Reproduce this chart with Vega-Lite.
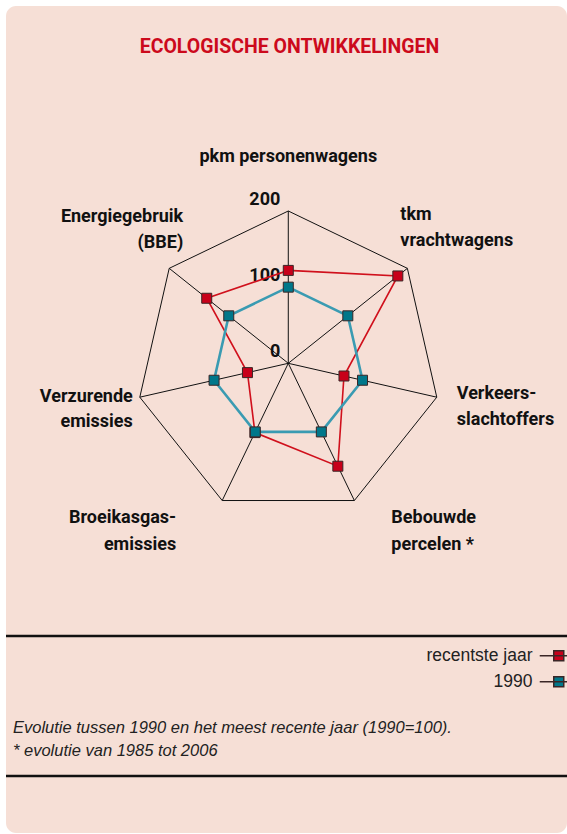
{
  "$schema": "https://vega.github.io/schema/vega-lite/v6.json",
  "width": 561,
  "height": 827,
  "autosize": {"type": "none"},
  "padding": {"left": 6, "top": 6, "right": 0, "bottom": 1},
  "background": "#ffffff",
  "config": {
    "view": {"fill": "#f6dfd6", "stroke": null, "cornerRadius": 10},
    "text": {"font": "Liberation Sans"}
  },
  "title": {
    "text": "ECOLOGISCHE ONTWIKKELINGEN",
    "anchor": "middle",
    "frame": "group",
    "orient": "top",
    "offset": -66,
    "baseline": "alphabetic",
    "dx": 3,
    "font": "Roboto",
    "fontSize": 19.5,
    "fontWeight": "bold",
    "color": "#cc0a1c"
  },
  "datasets": {
    "axes": [
      {"i": 0, "label": ["pkm personenwagens"]},
      {"i": 1, "label": ["tkm", "vrachtwagens"]},
      {"i": 2, "label": ["Verkeers-", "slachtoffers"]},
      {"i": 3, "label": ["Bebouwde", "percelen *"]},
      {"i": 4, "label": ["Broeikasgas-", "emissies"]},
      {"i": 5, "label": ["Verzurende", "emissies"]},
      {"i": 6, "label": ["Energiegebruik", "(BBE)"]}
    ],
    "series": [
      {"i": 0, "series": "recentste jaar", "value": 122},
      {"i": 1, "series": "recentste jaar", "value": 184},
      {"i": 2, "series": "recentste jaar", "value": 75},
      {"i": 3, "series": "recentste jaar", "value": 150},
      {"i": 4, "series": "recentste jaar", "value": 101},
      {"i": 5, "series": "recentste jaar", "value": 55},
      {"i": 6, "series": "recentste jaar", "value": 137},
      {"i": 0, "series": "1990", "value": 100},
      {"i": 1, "series": "1990", "value": 100},
      {"i": 2, "series": "1990", "value": 100},
      {"i": 3, "series": "1990", "value": 100},
      {"i": 4, "series": "1990", "value": 100},
      {"i": 5, "series": "1990", "value": 100},
      {"i": 6, "series": "1990", "value": 100}
    ],
    "ticks": [{"tick": 0}, {"tick": 100}, {"tick": 200}],
    "notes": [{"note": ["Evolutie tussen 1990 en het meest recente jaar (1990=100).", "* evolutie van 1985 tot 2006"]}]
  },
  "layer": [
    {
      "data": {"name": "axes"},
      "transform": [
        {"calculate": "datum.i * 2 * PI / 7", "as": "ang"},
        {"calculate": "200 * sin(datum.ang)", "as": "x"},
        {"calculate": "200 * cos(datum.ang)", "as": "y"},
        {"calculate": "0", "as": "cx"},
        {"calculate": "0", "as": "cy"}
      ],
      "layer": [
        {
          "mark": {"type": "line", "interpolate": "linear-closed", "stroke": "#111111", "strokeWidth": 1},
          "encoding": {
            "x": {"field": "x", "type": "quantitative", "axis": null, "scale": {"domain": [-370.7, 366.0], "nice": false, "zero": false}},
            "y": {"field": "y", "type": "quantitative", "axis": null, "scale": {"domain": [-616.8, 469.2], "nice": false, "zero": false}},
            "order": {"field": "i", "type": "quantitative"}
          }
        },
        {
          "mark": {"type": "rule", "stroke": "#111111", "strokeWidth": 1},
          "encoding": {
            "x": {"field": "cx", "type": "quantitative"},
            "y": {"field": "cy", "type": "quantitative"},
            "x2": {"field": "x"},
            "y2": {"field": "y"}
          }
        },
        {
          "transform": [{"filter": "datum.i == 0"}],
          "mark": {"type": "text", "align": "center", "baseline": "alphabetic", "dx": 0, "dy": -49, "font": "Roboto", "fontSize": 18, "fontWeight": "bold", "lineHeight": 26, "color": "#111111"},
          "encoding": {"x": {"field": "x", "type": "quantitative"}, "y": {"field": "y", "type": "quantitative"}, "text": {"field": "label", "type": "nominal"}}
        },
        {
          "transform": [{"filter": "datum.i == 1"}],
          "mark": {"type": "text", "align": "left", "baseline": "alphabetic", "dx": -7, "dy": -48, "font": "Roboto", "fontSize": 18, "fontWeight": "bold", "lineHeight": 26, "color": "#111111"},
          "encoding": {"x": {"field": "x", "type": "quantitative"}, "y": {"field": "y", "type": "quantitative"}, "text": {"field": "label", "type": "nominal"}}
        },
        {
          "transform": [{"filter": "datum.i == 2"}],
          "mark": {"type": "text", "align": "left", "baseline": "alphabetic", "dx": 20, "dy": 2, "font": "Roboto", "fontSize": 18, "fontWeight": "bold", "lineHeight": 26, "color": "#111111"},
          "encoding": {"x": {"field": "x", "type": "quantitative"}, "y": {"field": "y", "type": "quantitative"}, "text": {"field": "label", "type": "nominal"}}
        },
        {
          "transform": [{"filter": "datum.i == 3"}],
          "mark": {"type": "text", "align": "left", "baseline": "alphabetic", "dx": 37, "dy": 22, "font": "Roboto", "fontSize": 18, "fontWeight": "bold", "lineHeight": 27, "color": "#111111"},
          "encoding": {"x": {"field": "x", "type": "quantitative"}, "y": {"field": "y", "type": "quantitative"}, "text": {"field": "label", "type": "nominal"}}
        },
        {
          "transform": [{"filter": "datum.i == 4"}],
          "mark": {"type": "text", "align": "right", "baseline": "alphabetic", "dx": -46, "dy": 22, "font": "Roboto", "fontSize": 18, "fontWeight": "bold", "lineHeight": 27, "color": "#111111"},
          "encoding": {"x": {"field": "x", "type": "quantitative"}, "y": {"field": "y", "type": "quantitative"}, "text": {"field": "label", "type": "nominal"}}
        },
        {
          "transform": [{"filter": "datum.i == 5"}],
          "mark": {"type": "text", "align": "right", "baseline": "alphabetic", "dx": -7, "dy": 5, "font": "Roboto", "fontSize": 18, "fontWeight": "bold", "lineHeight": 25, "color": "#111111"},
          "encoding": {"x": {"field": "x", "type": "quantitative"}, "y": {"field": "y", "type": "quantitative"}, "text": {"field": "label", "type": "nominal"}}
        },
        {
          "transform": [{"filter": "datum.i == 6"}],
          "mark": {"type": "text", "align": "right", "baseline": "alphabetic", "dx": 14, "dy": -46, "font": "Roboto", "fontSize": 18, "fontWeight": "bold", "lineHeight": 26, "color": "#111111"},
          "encoding": {"x": {"field": "x", "type": "quantitative"}, "y": {"field": "y", "type": "quantitative"}, "text": {"field": "label", "type": "nominal"}}
        }
      ]
    },
    {
      "data": {"name": "ticks"},
      "transform": [{"calculate": "0", "as": "cx"}],
      "mark": {"type": "text", "align": "right", "baseline": "alphabetic", "dx": -8, "dy": -6, "font": "Roboto", "fontSize": 18, "fontWeight": "bold", "color": "#111111"},
      "encoding": {
        "x": {"field": "cx", "type": "quantitative"},
        "y": {"field": "tick", "type": "quantitative"},
        "text": {"field": "tick", "type": "quantitative"}
      }
    },
    {
      "data": {"name": "series"},
      "transform": [
        {"calculate": "datum.i * 2 * PI / 7", "as": "ang"},
        {"calculate": "datum.value * sin(datum.ang)", "as": "x"},
        {"calculate": "datum.value * cos(datum.ang)", "as": "y"}
      ],
      "layer": [
        {
          "transform": [{"filter": "datum.series == 'recentste jaar'"}],
          "mark": {"type": "line", "interpolate": "linear-closed", "stroke": "#d0101c", "strokeWidth": 1.6},
          "encoding": {
            "x": {"field": "x", "type": "quantitative"},
            "y": {"field": "y", "type": "quantitative"},
            "order": {"field": "i", "type": "quantitative"}
          }
        },
        {
          "transform": [{"filter": "datum.series == '1990'"}],
          "mark": {"type": "line", "interpolate": "linear-closed", "stroke": "#3a9bb2", "strokeWidth": 2.6},
          "encoding": {
            "x": {"field": "x", "type": "quantitative"},
            "y": {"field": "y", "type": "quantitative"},
            "order": {"field": "i", "type": "quantitative"}
          }
        },
        {
          "mark": {"type": "point", "shape": "square", "filled": true, "size": 100, "opacity": 1, "stroke": "#3a2626", "strokeWidth": 1},
          "encoding": {
            "x": {"field": "x", "type": "quantitative"},
            "y": {"field": "y", "type": "quantitative"},
            "color": {
              "field": "series",
              "type": "nominal",
              "scale": {"domain": ["recentste jaar", "1990"], "range": ["#c8001a", "#00778a"]},
              "legend": {
                "orient": "none",
                "legendX": 544,
                "legendY": 641,
                "title": null,
                "padding": 0,
                "symbolType": "M-3.8,0H3.8M-1,-1H1V1H-1Z",
                "symbolSize": 100,
                "symbolStrokeWidth": 1.5,
                "symbolOpacity": 1,
                "labelAlign": "right",
                "labelOffset": -35,
                "labelFont": "Liberation Sans",
                "labelFontSize": 17.5,
                "labelColor": "#222222",
                "rowPadding": 7
              }
            }
          }
        }
      ]
    },
    {
      "data": {"values": [{"line": "top"}]},
      "transform": [{"calculate": "-358.1", "as": "ly"}],
      "mark": {"type": "rule", "stroke": "#111111", "strokeWidth": 2.5},
      "encoding": {"y": {"field": "ly", "type": "quantitative"}}
    },
    {
      "data": {"values": [{"line": "bottom"}]},
      "transform": [{"calculate": "-542.0", "as": "ly"}],
      "mark": {"type": "rule", "stroke": "#111111", "strokeWidth": 2.5},
      "encoding": {"y": {"field": "ly", "type": "quantitative"}}
    },
    {
      "data": {"name": "notes"},
      "transform": [{"calculate": "-361.5", "as": "nx"}, {"calculate": "-485.5", "as": "ny"}],
      "mark": {"type": "text", "align": "left", "baseline": "alphabetic", "font": "Liberation Sans", "fontStyle": "italic", "fontSize": 16.5, "lineHeight": 23, "color": "#222222"},
      "encoding": {
        "x": {"field": "nx", "type": "quantitative"},
        "y": {"field": "ny", "type": "quantitative"},
        "text": {"field": "note", "type": "nominal"}
      }
    }
  ]
}
